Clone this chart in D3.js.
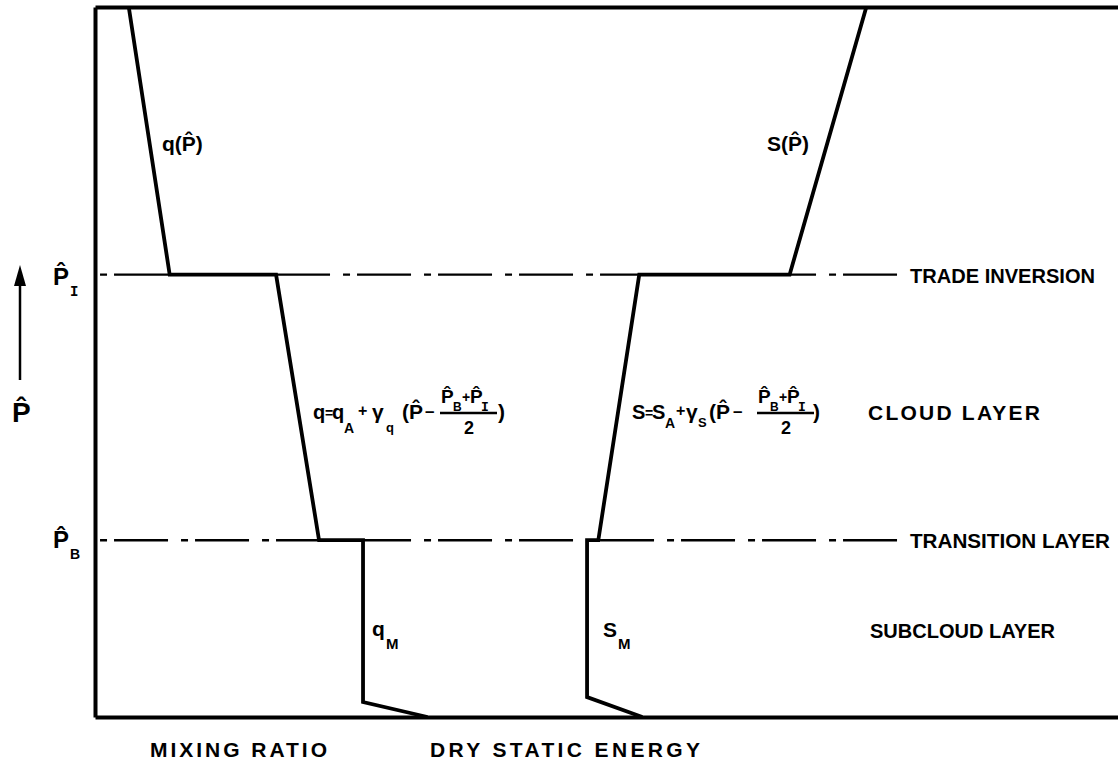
<!DOCTYPE html>
<html>
<head>
<meta charset="utf-8">
<script src="https://cdn.jsdelivr.net/npm/d3@7"></script>
<style>
  html, body { margin: 0; padding: 0; background: #fff; }
  svg text { font-family: "Liberation Sans", Arial, sans-serif; font-weight: bold; fill: #000; }
  svg tspan.mono { font-family: "Liberation Mono", "DejaVu Sans Mono", monospace; }
</style>
</head>
<body>
<svg id="chart" width="1118" height="767"></svg>
<script>
// Schematic of the trade-wind boundary layer: mixing ratio and dry static
// energy against the pressure coordinate P̂ (increasing upward).

const HAT = "P\u0302";

// Pressure levels of the two interfaces (P̂ scaled 0 = surface, 100 = top)
const levelSubs   = ["I", "B"];
const levelValues = [62.3, 24.9];

// Layer names and the P̂ at which each name sits
const layerNames  = ["TRADE INVERSION", "CLOUD LAYER", "TRANSITION LAYER", "SUBCLOUD LAYER"];
const layerP      = [62.3, 43.0, 24.9, 12.2];

// Mixing-ratio profile q(P̂)
const qX = [3.3, 7.3, 17.7, 21.9, 26.2, 26.2, 32.5];
const qP = [100, 62.3, 62.3, 24.9, 24.9, 2.1, 0];

// Dry-static-energy profile s(P̂)
const sX = [75.4, 67.9, 53.2, 49.2, 48.1, 48.1, 53.5];
const sP = [100, 62.3, 62.3, 24.9, 24.9, 2.8, 0];

// Horizontal titles
const axisTitles = ["MIXING RATIO", "DRY STATIC ENERGY"];

const svg = d3.select("#chart");
svg.append("rect").attr("width", 1118).attr("height", 767).attr("fill", "#fff");

const x = d3.scaleLinear().domain([0, 100]).range([95, 1118]);
const y = d3.scaleLinear().domain([0, 100]).range([717, 7]);

// ---- frame (axes without ticks) ----
const frame = svg.append("g");
frame.append("g").attr("transform", `translate(0,${y(0)})`)
  .call(d3.axisBottom(x).tickValues([]).tickSizeOuter(0));
frame.append("g").attr("transform", `translate(0,${y(100)})`)
  .call(d3.axisTop(x).tickValues([]).tickSizeOuter(0));
frame.append("g").attr("transform", `translate(${x(0)},0)`)
  .call(d3.axisLeft(y).tickValues([]).tickSizeOuter(0));
frame.selectAll(".domain").attr("stroke", "#000").attr("stroke-width", 4);

// ---- dash-dot interface lines (drawn right to left) ----
const dashEnd = 78.4;
const hLine = d3.line().x(d => x(d[0])).y(d => y(d[1]));
levelValues.forEach(p => {
  svg.append("path")
    .attr("d", hLine([[dashEnd, p], [0, p]]))
    .attr("fill", "none").attr("stroke", "#000").attr("stroke-width", 2.4)
    .attr("stroke-dasharray", "54,7,7,13");
});

// ---- profiles ----
const prof = d3.line().x(d => x(d[0])).y(d => y(d[1]));
[[qX, qP], [sX, sP]].forEach(([xs, ps]) => {
  svg.append("path")
    .attr("d", prof(xs.map((v, i) => [v, ps[i]])))
    .attr("fill", "none").attr("stroke", "#000").attr("stroke-width", 3.8)
    .attr("stroke-linejoin", "miter");
});

const labels = svg.append("g");

// Plain label fitted to a given width
function fitted(s, px, py, size, width) {
  const t = labels.append("text").attr("x", px).attr("y", py)
    .attr("font-size", size).text(s);
  const natural = t.node().getComputedTextLength();
  t.attr("textLength", width)
   .attr("lengthAdjust", natural < width ? "spacing" : "spacingAndGlyphs");
  return t;
}

// One text element made of absolutely placed pieces: [string, x, y, size, mono?]
function pieces(g, parts, anchor) {
  const t = g.append("text");
  if (anchor) t.attr("text-anchor", anchor);
  parts.forEach(([s, px, py, size, mono]) => {
    const ts = t.append("tspan").attr("x", px).attr("y", py)
      .attr("font-size", size).text(s);
    if (mono) ts.attr("class", "mono");
  });
  return t;
}

// ---- layer names ----
const layerX   = [910, 868, 910, 870];
const layerLen = [185, 172, 200, 185];
layerNames.forEach((n, i) => fitted(n, layerX[i], y(layerP[i]) + 8, 21, layerLen[i]));

// ---- axis titles ----
fitted(axisTitles[0], 150, 757, 21, 177);
fitted(axisTitles[1], 430, 757, 21, 270);

// ---- interface labels on the left ----
levelSubs.forEach((s, i) => {
  const base = y(levelValues[i]) + (i === 0 ? 10 : 8);
  pieces(labels, [[HAT, 53, base, 24], [s, 70, base + 11, 14, s === "I"]]);
});

// ---- P̂ axis arrow and label ----
svg.append("line").attr("x1", 20).attr("x2", 20).attr("y1", 380).attr("y2", 282)
  .attr("stroke", "#000").attr("stroke-width", 2.5);
svg.append("path").attr("d", "M20,265 L14,286 L26,286 Z").attr("fill", "#000");
pieces(labels, [[HAT, 12, 422, 28]]);

// ---- profile names ----
pieces(labels, [["q(" + HAT + ")", 162, 151, 21]]);
pieces(labels, [["S(" + HAT + ")", 767, 151, 21]]);
pieces(labels, [["q", 372, 636, 21], ["M", 386, 649, 15]]);
pieces(labels, [["S", 603, 637, 21], ["M", 618, 649, 15]]);

// ---- cloud-layer formulas ----
function formula(o) {
  const g = labels.append("g");
  const x0 = o.x0, yb = o.yb, f = o.off;
  pieces(g, [
    [o.sym, x0, yb, 20],
    ["=", x0 + f.eq, yb - 1, 14],
    [o.sym, x0 + f.sym2, yb, 20],
    ["A", x0 + f.subA, yb + o.subDy, 14],
    ["+", x0 + f.plus, yb - 3, 16],
    ["\u03b3", x0 + f.gam, yb, 21],
    [o.sym, x0 + f.gsub, yb + o.subDy - 1, 13],
    ["(", x0 + f.lp, yb, 21],
    [HAT, x0 + f.P, yb, 21],
    ["\u2013", x0 + f.minus, yb - 2, 17]
  ]);
  const fx = x0 + f.frac;
  pieces(g, [
    [HAT, fx + 1, yb - 16, 19],
    ["B", fx + 13, yb - 8, 12],
    ["+", fx + 22, yb - 17, 14],
    [HAT, fx + 30, yb - 16, 19],
    ["I", fx + 41, yb - 8, 13, true]
  ]);
  g.append("line").attr("x1", fx).attr("x2", fx + 57)
    .attr("y1", yb - 6).attr("y2", yb - 6)
    .attr("stroke", "#000").attr("stroke-width", 2.6);
  pieces(g, [["2", fx + 29, yb + 15, 18]], "middle");
  pieces(g, [[")", x0 + f.rp, yb, 21]]);
}

formula({
  sym: "q", x0: 313, yb: 419, subDy: 14,
  off: { eq: 12, sym2: 19, subA: 31, plus: 45, gam: 59, gsub: 73, lp: 89, P: 96, minus: 112, frac: 127, rp: 185 }
});
formula({
  sym: "S", x0: 632, yb: 419, subDy: 9,
  off: { eq: 13, sym2: 20, subA: 33, plus: 44, gam: 54, gsub: 66, lp: 77, P: 84, minus: 101, frac: 125, rp: 181 }
});
</script>
</body>
</html>
